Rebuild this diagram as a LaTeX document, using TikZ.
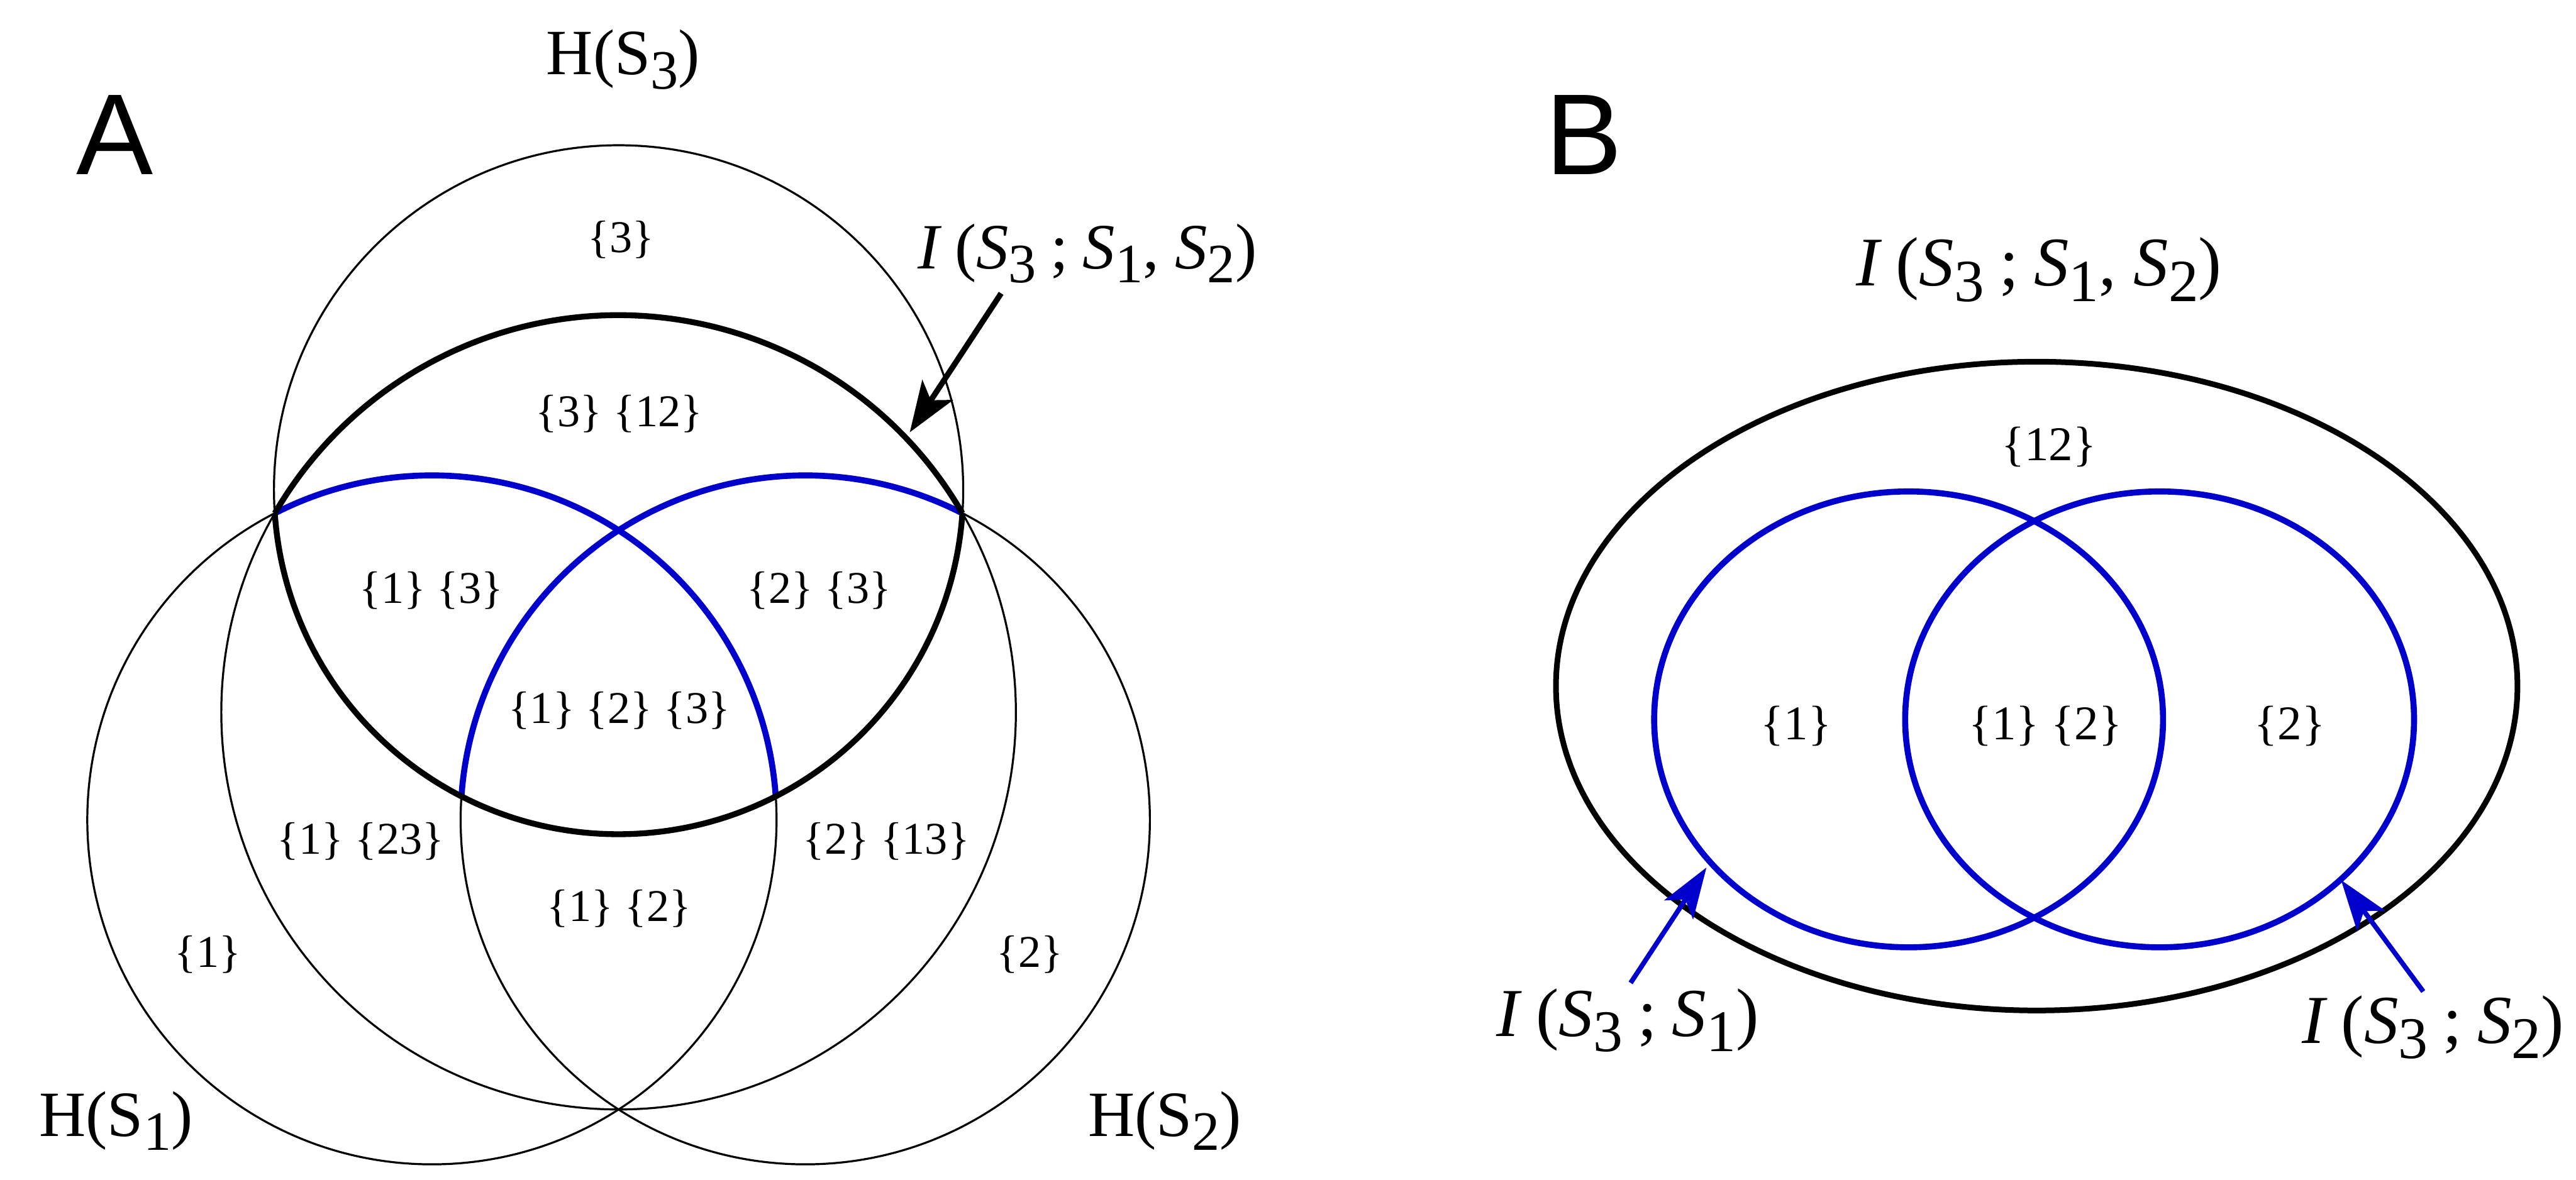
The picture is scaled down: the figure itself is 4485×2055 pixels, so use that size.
\documentclass[tikz,border=0pt]{standalone}
\usepackage{fontspec}
\setmainfont{Liberation Serif}
\newfontfamily\panelfont{Liberation Sans}
\usepackage{graphicx}
\usetikzlibrary{arrows.meta}
\definecolor{venblue}{RGB}{0,0,204}
\newcommand\lo[1]{\raisebox{-0.22em}{\scalebox{0.86}{#1}}}
\newcommand\fsz[1]{\fontsize{#1}{#1}\selectfont}
\newcommand\mi[1]{\textit{#1}}
\begin{document}
\begin{tikzpicture}[x=0.01cm,y=0.01cm,
  thinline/.style={line width=1pt},
  thickline/.style={line width=2.9pt},
  blueline/.style={line width=3pt, draw=venblue},
  ellB/.style={line width=2.8pt},
  panel/.style={font=\panelfont\fsz{57}, inner sep=0pt, anchor=base},
  region/.style={font=\fsz{22.5}, inner sep=0pt},
  regionB/.style={font=\fsz{24}, inner sep=0pt},
  hlabel/.style={font=\fsz{32}, inner sep=0pt, anchor=base},
  ilabA/.style={font=\fsz{32}, inner sep=0pt, anchor=base},
  ilabB/.style={font=\fsz{34.5}, inner sep=0pt, anchor=base},
  ilabBs/.style={font=\fsz{34}, inner sep=0pt, anchor=base},
  pointer/.style={line width=2.8pt, -{Stealth[length=25pt,width=18pt,inset=6pt]}},
  bluepointer/.style={line width=2.4pt, draw=venblue, -{Stealth[length=25pt,width=17pt,inset=6pt]}}
]
\useasboundingbox (0,0) rectangle (4485,2055);

% ---------- Panel A ----------
\coordinate (c3) at (1077,1202);
\coordinate (c12) at (1077,814.3);
\coordinate (c1) at (752,627);
\coordinate (c2) at (1402,627);

\draw[thinline] (c3) circle[radius=600];
\draw[thinline] (c12) circle[radius=691.7];
\draw[thinline] (c1) circle[radius=600];
\draw[thinline] (c2) circle[radius=600];

\draw[blueline] (c1) ++(3.92:600) arc[start angle=3.92, end angle=117.13, radius=600];
\draw[blueline] (c2) ++(62.87:600) arc[start angle=62.87, end angle=176.08, radius=600];

\draw[thickline] (c12) ++(30.08:691.7) arc[start angle=30.08, end angle=149.92, radius=691.7];
\draw[thickline] (c3) ++(183.92:600) arc[start angle=183.92, end angle=356.08, radius=600];

\node[panel] (labA) at (200,1751) {A};
\node[hlabel] (h3) at (1085,1925) {H(S\lo{3})};
\node[hlabel] (h1) at (202,76) {H(S\lo{1})};
\node[hlabel] (h2) at (2028,76) {H(S\lo{2})};
\node[ilabA] (iA) at (1893,1587) {\mi{I}\hspace{0.2em}(\mi{S}\lo{3}\hspace{0.22em};\hspace{0.22em}\mi{S}\lo{1}, \mi{S}\lo{2})};

\node[region] (r3) at (1081,1638) {\{3\}};
\node[region] (r312) at (1078,1334) {\{3\} \{12\}};
\node[region] (r13) at (751,1026) {\{1\} \{3\}};
\node[region] (r23) at (1426,1026) {\{2\} \{3\}};
\node[region] (r123) at (1078,817) {\{1\} \{2\} \{3\}};
\node[region] (r123b) at (628,590) {\{1\} \{23\}};
\node[region] (r213) at (1543,590) {\{2\} \{13\}};
\node[region] (r12) at (1078,472) {\{1\} \{2\}};
\node[region] (r1) at (362,393) {\{1\}};
\node[region] (r2) at (1793,393) {\{2\}};

\coordinate (aAstart) at (1743,1544);
\coordinate (aAtip) at (1584,1302);
\draw[pointer] (aAstart) -- (aAtip);

% ---------- Panel B ----------
\coordinate (cB) at (3546,860);
\coordinate (cBl) at (3323,802);
\coordinate (cBr) at (3760,802);
\draw[ellB] (cB) ellipse[x radius=837, y radius=565];
\draw[blueline] (cBl) ellipse[x radius=443, y radius=397];
\draw[blueline] (cBr) ellipse[x radius=443, y radius=397];

\node[panel] (labB) at (2758,1751) {B};
\node[ilabB] (iB) at (3550,1557) {\mi{I}\hspace{0.2em}(\mi{S}\lo{3}\hspace{0.22em};\hspace{0.22em}\mi{S}\lo{1}, \mi{S}\lo{2})};
\node[ilabBs] (iB1) at (2834,250) {\mi{I}\hspace{0.2em}(\mi{S}\lo{3}\hspace{0.22em};\hspace{0.22em}\mi{S}\lo{1})};
\node[ilabBs] (iB2) at (4236,238) {\mi{I}\hspace{0.2em}(\mi{S}\lo{3}\hspace{0.22em};\hspace{0.22em}\mi{S}\lo{2})};

\node[regionB] (b12) at (3567,1276) {\{12\}};
\node[regionB] (b1) at (3127,790) {\{1\}};
\node[regionB] (b1b2) at (3561,790) {\{1\} \{2\}};
\node[regionB] (b2) at (3987,790) {\{2\}};

\coordinate (aB1start) at (2839,343);
\coordinate (aB1tip) at (2971,544);
\coordinate (aB2start) at (4219,328);
\coordinate (aB2tip) at (4076,522);
\draw[bluepointer] (aB1start) -- (aB1tip);
\draw[bluepointer] (aB2start) -- (aB2tip);
\end{tikzpicture}
\end{document}
